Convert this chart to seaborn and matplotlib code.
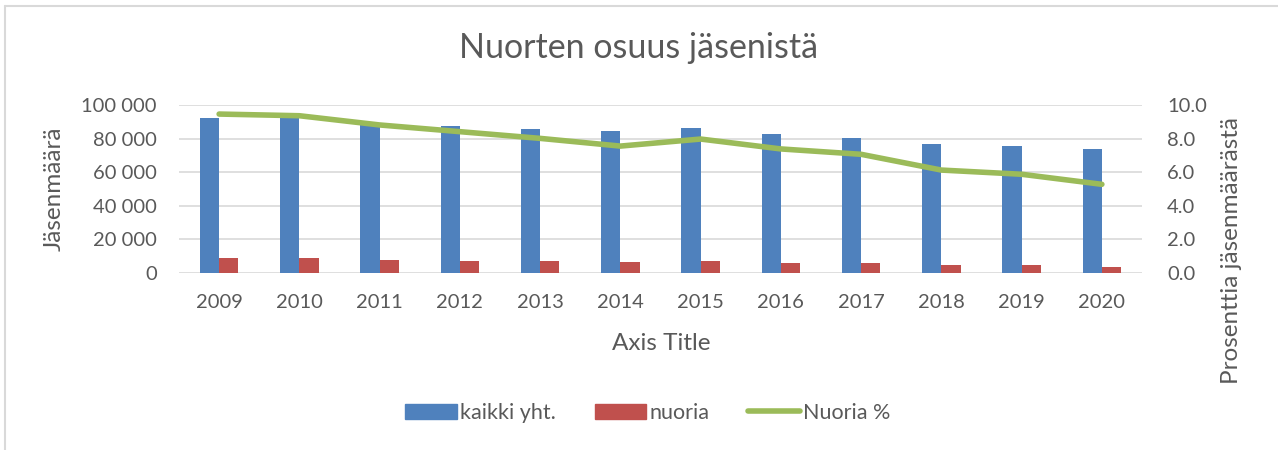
import numpy as np
import pandas as pd
import matplotlib
matplotlib.use('Agg')
import matplotlib.pyplot as plt
import seaborn as sns
from matplotlib.ticker import FuncFormatter

# data
years = ['2009', '2010', '2011', '2012', '2013', '2014', '2015', '2016', '2017', '2018', '2019', '2020']
kaikki = [92100, 92700, 87800, 87300, 85700, 84500, 86500, 82700, 80300, 76900, 75400, 73600]
nuoria = [8600, 8600, 7600, 7000, 6800, 6200, 6800, 5800, 5600, 4600, 4600, 3600]
nuoria_pct = [9.46, 9.36, 8.81, 8.41, 8.01, 7.55, 7.97, 7.38, 7.06, 6.12, 5.87, 5.27]

series_names = ['kaikki yht.', 'nuoria']
colors = ['#4f81bd', '#c0504d']
line_color = '#9bbb59'
text_color = '#595959'

sns.set_style('white')
plt.rcParams['font.family'] = ['Lato', 'DejaVu Sans']

df = pd.DataFrame({
    'vuosi': years * 2,
    'arvo': kaikki + nuoria,
    'sarja': [series_names[0]] * len(years) + [series_names[1]] * len(years),
})

fig = plt.figure(figsize=(12.78, 4.5), dpi=100)
ax = fig.add_axes([179 / 1278, 1 - 272.7 / 450, (1142 - 179) / 1278, (272.7 - 105) / 450])

sns.barplot(data=df, x='vuosi', y='arvo', hue='sarja', palette=colors, saturation=1,
            width=0.48, gap=0, ax=ax, legend=False, zorder=2)
for p in ax.patches:
    p.set_edgecolor('none')

ax.set_ylim(0, 100000)
ax.set_yticks(np.arange(0, 100001, 20000))
ax.yaxis.set_major_formatter(FuncFormatter(lambda v, _: f'{int(v):,}'.replace(',', ' ')))
ax.set_xlim(-0.5, len(years) - 0.5)
ax.grid(axis='y', color='#d9d9d9', linewidth=1.2, zorder=0)
ax.set_axisbelow(True)
for s in ax.spines.values():
    s.set_visible(False)
ax.tick_params(axis='both', length=0, labelsize=14.5, colors=text_color)
ax.tick_params(axis='y', pad=16)
ax.tick_params(axis='x', pad=15)
ax.set_xlabel('')
ax.set_ylabel('')

ax2 = ax.twinx()
sns.lineplot(x=np.arange(len(years)), y=nuoria_pct, color=line_color,
             linewidth=4, ax=ax2, solid_capstyle='round', zorder=3)
ax2.set_ylim(0, 10)
ax2.set_yticks(np.arange(0, 10.1, 2))
ax2.yaxis.set_major_formatter(FuncFormatter(lambda v, _: f'{v:.1f}'))
for s in ax2.spines.values():
    s.set_visible(False)
ax2.tick_params(axis='y', length=0, labelsize=14.5, colors=text_color, pad=18)
ax2.set_ylabel('')

fig.text(0.5, 1 - 48 / 450, 'Nuorten osuus jäsenistä', ha='center', va='center',
         fontsize=24.5, color=text_color)
fig.text(661 / 1278, 1 - 343 / 450, 'Axis Title', ha='center', va='center',
         fontsize=17.5, color=text_color)
fig.text(54 / 1278, 1 - 189 / 450, 'Jäsenmäärä', ha='center', va='center',
         rotation=90, fontsize=17.5, color=text_color)
fig.text(1232 / 1278, 1 - 251 / 450, 'Prosenttia jäsenmäärästä', ha='center', va='center',
         rotation=90, fontsize=17.5, color=text_color)

handles = [plt.Rectangle((0, 0), 1, 1, color=colors[0]),
           plt.Rectangle((0, 0), 1, 1, color=colors[1]),
           plt.Line2D([0], [0], color=line_color, linewidth=4, solid_capstyle='round')]
fig.legend(handles, series_names + ['Nuoria %'], loc='center', ncol=3,
           bbox_to_anchor=(648 / 1278, 1 - 413 / 450), frameon=False,
           fontsize=15.5, labelcolor=text_color, handlelength=2.4, handleheight=0.7,
           handletextpad=0.15, columnspacing=1.8)

# chart border
fig.add_artist(plt.Line2D([5 / 1278, 5 / 1278], [0, 1 - 6 / 450], color='#d9d9d9',
                          linewidth=1.5, transform=fig.transFigure))
fig.add_artist(plt.Line2D([5 / 1278, 1], [1 - 6 / 450, 1 - 6 / 450], color='#d9d9d9',
                          linewidth=1.5, transform=fig.transFigure))

fig.savefig('out.png', dpi=100)
